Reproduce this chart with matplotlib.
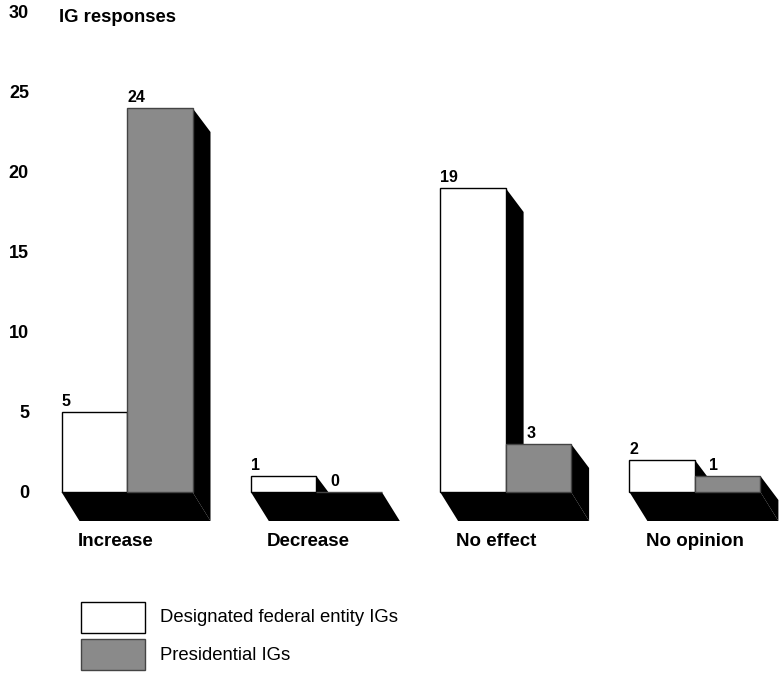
import matplotlib.pyplot as plt
from matplotlib.patches import Rectangle

plt.rcParams['font.family'] = ['Liberation Sans', 'DejaVu Sans']

# ---------- data ----------
categories = ["Increase", "Decrease", "No effect", "No opinion"]
designated = [5, 1, 19, 2]
presidential = [24, 0, 3, 1]
series_names = ["Designated federal entity IGs", "Presidential IGs"]
yticks = [0, 5, 10, 15, 20, 25, 30]

WHITE = "#ffffff"
GRAY = "#8a8a8a"

# ---------- geometry (one x unit = one group, one y unit = one response) ----------
W, H, DPI = 779, 673, 100
px_x = 189.3          # pixels per group
px_y = 16.0           # pixels per response
x0_px, y0_px = 127, 492
w = 65.5 / px_x       # bar width
dx = 18 / px_x        # depth offset to the right
dy_floor = 29 / px_y  # floor depth downward
dy_side = 24 / px_y   # slant of side faces

fig = plt.figure(figsize=(W / DPI, H / DPI), dpi=DPI)
ax = fig.add_axes([0, 0, 1, 1])
ax.set_xlim(-x0_px / px_x, (W - x0_px) / px_x)
ax.set_ylim(-(H - y0_px) / px_y, y0_px / px_y)
for s in ax.spines.values():
    s.set_visible(False)
ax.set_xticks([])
ax.set_yticks(yticks)
ax.tick_params(axis="y", length=0, pad=-29 * 72 / DPI, labelsize=13)
for lab in ax.get_yticklabels():
    lab.set_fontweight("bold")

xs = list(range(len(categories)))

# ---------- black depth: floor + side faces ----------
for i, vw, vg in zip(xs, designated, presidential):
    ax.fill([i - w, i + w, i + w + dx, i - w + dx],
            [0, 0, -dy_floor, -dy_floor], color="black", lw=0)
    for xr, v in ((i, vw), (i + w, vg)):
        if v > 0:
            ax.fill([xr, xr, xr + dx, xr + dx],
                    [0, v, v - dy_side, -dy_floor], color="black", lw=0)

# ---------- front faces ----------
ax.bar([i - w for i in xs], designated, width=w, align="edge",
       color=WHITE, edgecolor="black", linewidth=1, zorder=3)
ax.bar(xs, presidential, width=w, align="edge",
       color=GRAY, edgecolor="#444444", linewidth=1, zorder=3)

# ---------- value labels ----------
lab_pad = 6 / px_y
for i, vw, vg in zip(xs, designated, presidential):
    ax.text(i - w, vw + lab_pad, str(vw), ha="left", va="baseline",
            fontsize=11.5, fontweight="bold", zorder=4)
    # shift the presidential label clear of the white bar's side face
    if vw - dy_side > vg:
        off = dx + 3 / px_x
    elif vw > vg:
        off = 14 / px_x
    else:
        off = 0
    ax.text(i + off, vg + lab_pad, str(vg), ha="left", va="baseline",
            fontsize=11.5, fontweight="bold", zorder=4)

# ---------- category labels ----------
for i, cat in zip(xs, categories):
    ax.text(i - w + dx - 0.01, -49 / px_y, cat, ha="left", va="center",
            fontsize=13.5, fontweight="bold")

# ---------- y title ----------
ax.text((59 - x0_px) / px_x, (y0_px - 18) / px_y, "IG responses",
        ha="left", va="center", fontsize=13.3, fontweight="bold")

# ---------- legend (drawn by hand in figure pixels) ----------
for k, (name, fc, ec) in enumerate(zip(series_names, [WHITE, GRAY],
                                       ["black", "#444444"])):
    top = 602 + 37 * k
    fig.patches.append(Rectangle((81 / W, 1 - (top + 31) / H), 64 / W, 31 / H,
                                 transform=fig.transFigure, facecolor=fc,
                                 edgecolor=ec, linewidth=1))
    fig.text(160 / W, 1 - (top + 16) / H, name, ha="left", va="center",
             fontsize=13.3)

fig.savefig("out.png", dpi=DPI)
